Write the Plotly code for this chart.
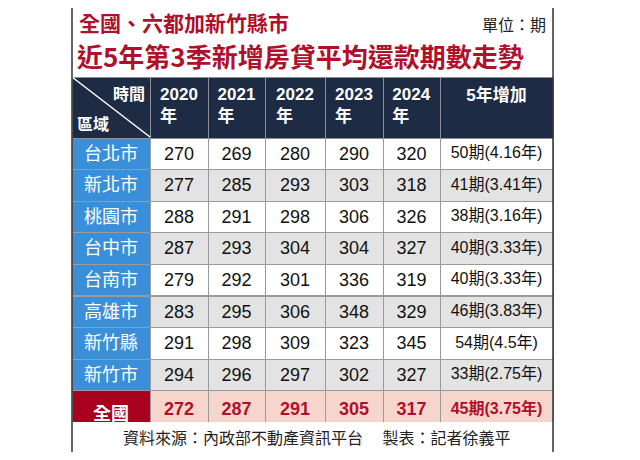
import plotly.graph_objects as go

W, H = 624, 444  # page body has an 8px margin inside the 640x460 window
OFF = 8

regions = ["台北市", "新北市", "桃園市", "台中市", "台南市", "高雄市", "新竹縣", "新竹市", "全國"]
y2020 = [270, 277, 288, 287, 279, 283, 291, 294, 272]
y2021 = [269, 285, 291, 293, 292, 295, 298, 296, 287]
y2022 = [280, 293, 298, 304, 301, 306, 309, 297, 291]
y2023 = [290, 303, 306, 304, 336, 348, 323, 302, 305]
y2024 = [320, 318, 326, 327, 319, 329, 345, 327, 317]
increase = ["50期(4.16年)", "41期(3.41年)", "38期(3.16年)", "40期(3.33年)", "40期(3.33年)",
            "46期(3.83年)", "54期(4.5年)", "33期(2.75年)", "45期(3.75年)"]
headers = ["", "<b>2020</b><br><b>年</b>", "<b>2021</b><br><b>年</b>", "<b>2022</b><br><b>年</b>",
           "<b>2023</b><br><b>年</b>", "<b>2024</b><br><b>年</b>", "<br><b>5年增加</b>"]


def px(x):
    return (x - OFF) / W


def py(y):
    return 1 - (y - OFF) / H


def bold_last(vals):
    return [f"<b>{v}</b>" if i == len(vals) - 1 else str(v) for i, v in enumerate(vals)]


RED = "#b0102a"
n = len(regions)
row_bg = ["#ffffff" if i % 2 == 0 else "#e3e3e3" for i in range(n - 1)] + ["#f6d6cc"]
region_bg = ["#3b8fd8"] * (n - 1) + ["#a8001f"]
num_color = ["#111111"] * (n - 1) + [RED]

x0, x1, ytop, ybot = 72, 553, 77, 422

fig = go.Figure(go.Table(
    domain=dict(x=[px(x0), px(x1)], y=[py(ybot), py(ytop)]),
    columnwidth=[78, 58, 57, 60, 58, 57, 113],
    header=dict(
        values=headers,
        fill_color="#1d2c44",
        line=dict(color="#8a8f99", width=1),
        font=dict(family="Liberation Sans, Noto Sans CJK TC", size=17, color="white"),
        align="center", height=61,
    ),
    cells=dict(
        values=[bold_last(regions)] + [bold_last(v) for v in (y2020, y2021, y2022, y2023, y2024, increase)],
        fill_color=[region_bg] + [row_bg] * 6,
        line=dict(color="#9a9a9a", width=1),
        font=dict(
            family=["Noto Sans CJK TC"] + ["Liberation Sans, Noto Sans CJK TC"] * 6,
            size=[18, 18, 18, 18, 18, 18, 16],
            color=[["white"] * n] + [num_color] * 6,
        ),
        align="center", height=31.6,
    ),
))

# header corner: diagonal and labels
fig.add_shape(type="line", xref="paper", yref="paper",
              x0=px(x0), y0=py(ytop), x1=px(150), y1=py(137),
              line=dict(color="white", width=1.5))
fig.add_annotation(x=px(147), y=py(93), text="<b>時間</b>", showarrow=False, xanchor="right", yanchor="middle",
                   font=dict(family="Noto Sans CJK TC", size=16, color="white"))
fig.add_annotation(x=px(75), y=py(123), text="<b>區域</b>", showarrow=False, xanchor="left", yanchor="middle",
                   font=dict(family="Noto Sans CJK TC", size=16, color="white"))

# titles
fig.add_annotation(x=px(77), y=py(22), text="<b>全國、六都加新竹縣市</b>", showarrow=False,
                   xanchor="left", yanchor="middle", font=dict(family="Noto Sans CJK TC", size=21, color=RED))
fig.add_annotation(x=px(75), y=py(55), text="<b>近5年第3季新增房貸平均還款期數走勢</b>", showarrow=False,
                   xanchor="left", yanchor="middle", font=dict(family="Noto Sans CJK TC", size=26, color=RED))
fig.add_annotation(x=px(548), y=py(24), text="單位：期", showarrow=False,
                   xanchor="right", yanchor="middle", font=dict(family="Noto Sans CJK TC", size=16, color="#222"))
fig.add_annotation(x=px((x0 + x1) / 2 + 4), y=py(437), text="資料來源：內政部不動產資訊平台　 製表：記者徐義平",
                   showarrow=False, xanchor="center", yanchor="middle",
                   font=dict(family="Noto Sans CJK TC", size=16, color="#222"))

# outer frame
fig.add_shape(type="rect", xref="paper", yref="paper",
              x0=px(x0), x1=px(x1), y0=py(453), y1=py(5),
              line=dict(color="#333", width=1.5))

fig.update_layout(width=W, height=H, margin=dict(l=0, r=0, t=0, b=0),
                  paper_bgcolor="white", plot_bgcolor="white")
fig.write_html("out.html")
